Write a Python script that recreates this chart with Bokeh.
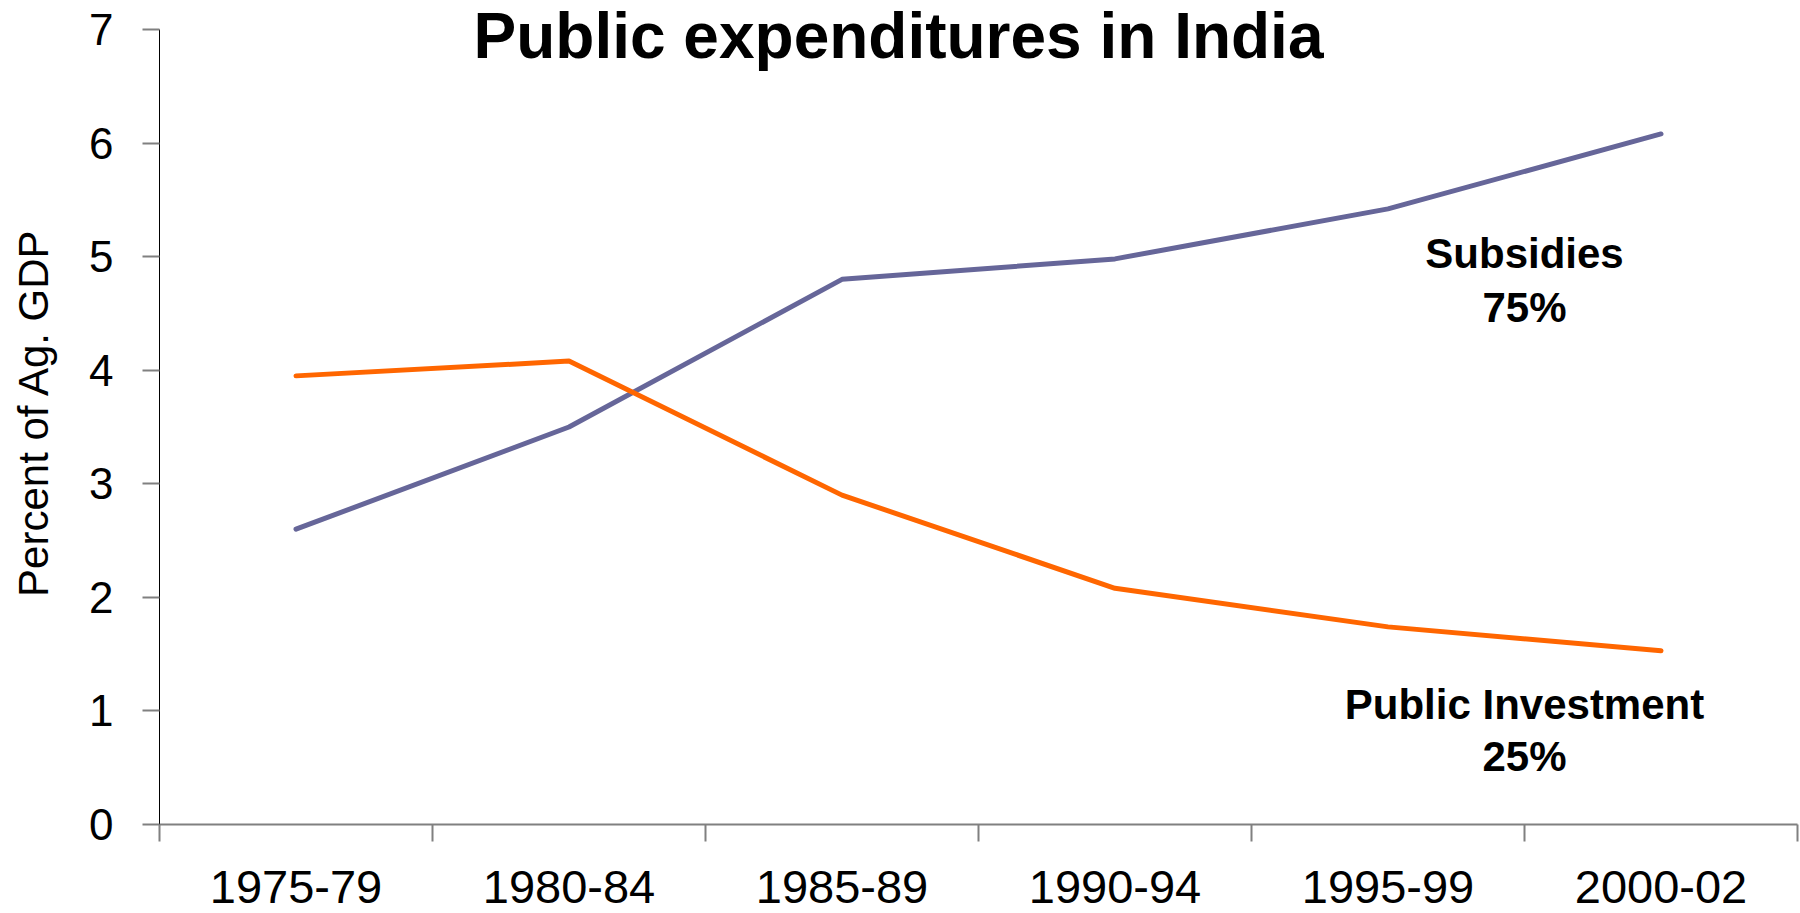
from bokeh.plotting import figure
from bokeh.models import Range1d, FixedTicker, Label
from bokeh.embed import file_html
from bokeh.resources import INLINE

# ---- data ----
periods = ["1975-79", "1980-84", "1985-89", "1990-94", "1995-99", "2000-02"]
subsidies = [2.6, 3.5, 4.8, 4.98, 5.42, 6.08]
public_investment = [3.95, 4.08, 2.9, 2.08, 1.74, 1.53]
y_ticks = [0, 1, 2, 3, 4, 5, 6, 7]
title_text = "Public expenditures in India"
y_label = "Percent of Ag. GDP"

FONT = "Liberation Sans"
n = len(periods)
x_centers = [i + 0.5 for i in range(n)]
x_bounds = list(range(n + 1))
y_top_pad = 0.255  # headroom above the last tick for the title

p = figure(width=1800, height=913, output_backend="svg", toolbar_location=None,
           x_range=Range1d(0, n),
           y_range=Range1d(y_ticks[0], y_ticks[-1] + y_top_pad),
           min_border_left=159, min_border_right=3, min_border_top=0,
           min_border_bottom=89)
p.outline_line_color = None
p.grid.visible = False
p.background_fill_color = "white"
p.border_fill_color = "white"

# y axis
ya = p.yaxis[0]
ya.ticker = FixedTicker(ticks=y_ticks)
ya.bounds = (y_ticks[0], y_ticks[-1])
ya.axis_line_color = "black"
ya.axis_line_width = 1
ya.major_tick_out = 17
ya.major_tick_in = 0
ya.major_tick_line_color = "#808080"
ya.major_tick_line_width = 2
ya.minor_tick_out = 0
ya.minor_tick_in = 0
ya.major_label_text_font = FONT
ya.major_label_text_font_size = "44px"
ya.major_label_text_color = "black"
ya.major_label_standoff = 29
ya.axis_label = y_label
ya.axis_label_text_font = FONT
ya.axis_label_text_font_style = "normal"
ya.axis_label_text_font_size = "42px"
ya.axis_label_text_color = "black"
ya.axis_label_standoff = 29

# x axis: labels centred in categories, ticks on boundaries
xa = p.xaxis[0]
xa.ticker = FixedTicker(ticks=x_centers, minor_ticks=x_bounds)
xa.major_label_overrides = {xc: lab for xc, lab in zip(x_centers, periods)}
xa.axis_line_color = "#808080"
xa.axis_line_width = 2
xa.major_tick_out = 0
xa.major_tick_in = 0
xa.minor_tick_out = 17
xa.minor_tick_in = 0
xa.minor_tick_line_color = "#808080"
xa.minor_tick_line_width = 2
xa.major_label_text_font = FONT
xa.major_label_text_font_size = "47px"
xa.major_label_text_color = "black"
xa.major_label_standoff = 29

# series
p.line(x_centers, subsidies, line_color="#666699", line_width=5,
       line_join="round", line_cap="round")
p.line(x_centers, public_investment, line_color="#FF6600", line_width=5,
       line_join="round", line_cap="round")

# title
p.add_layout(Label(x=0, y=y_ticks[-1], x_offset=739, y_offset=-7, text=title_text,
                   text_font=FONT, text_font_style="bold", text_font_size="64px",
                   text_align="center", text_baseline="alphabetic", text_color="black"))

# annotations
def ann(txt, xx, yy):
    p.add_layout(Label(x=xx, y=yy, text=txt, text_font=FONT, text_font_style="bold",
                       text_font_size="42px", text_align="center",
                       text_baseline="alphabetic", text_color="black"))

ann("Subsidies", 5.0, 5.03)
ann("75%", 5.0, 4.55)
ann("Public Investment", 5.0, 1.06)
ann("25%", 5.0, 0.6)

open("out.html", "w").write(file_html(p, INLINE))
